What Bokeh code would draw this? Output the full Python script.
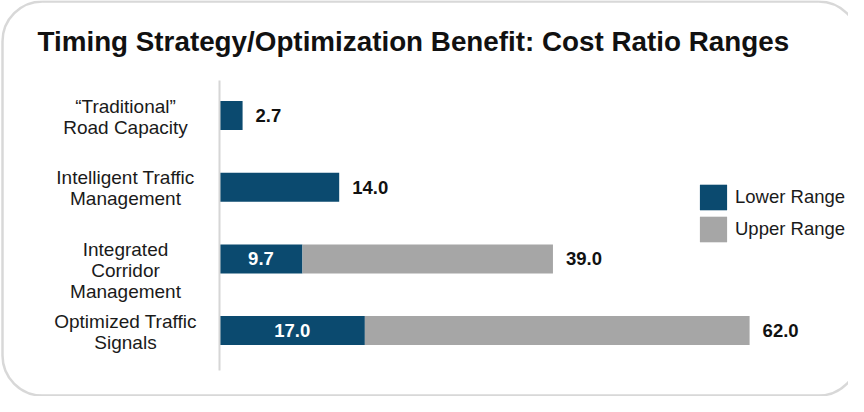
from bokeh.plotting import figure
from bokeh.models import Range1d, ColumnDataSource, Legend, LegendItem, BoxAnnotation
from bokeh.core.properties import value
from bokeh.embed import file_html
from bokeh.resources import INLINE

# ---- data ----
title_text = "Timing Strategy/Optimization Benefit: Cost Ratio Ranges"
categories = ["\u201cTraditional\u201d\nRoad Capacity",
              "Intelligent Traffic\nManagement",
              "Integrated\nCorridor\nManagement",
              "Optimized Traffic\nSignals"]
lower_range = [2.7, 14.0, 9.7, 17.0]
upper_range = [None, None, 39.0, 62.0]
series_names = ["Lower Range", "Upper Range"]

# ---- layout ----
W, H = 848, 396
PX_X = 8.55          # pixels per unit on x
AXIS_PX = 219        # x pixel of zero
ROW_PX = 71.7        # pixels per category
TOP_ROW_PX = 115     # pixel of first row centre

xmin = -AXIS_PX / PX_X
xmax = (W - AXIS_PX) / PX_X
ytop = -TOP_ROW_PX / ROW_PX
ybot = ytop + H / ROW_PX

def xd(px):
    return xmin + px / PX_X

def yd(py):
    return ytop + py / ROW_PX

FONT = value("Liberation Sans")
BLUE = "#0b4a6f"
GRAY = "#a6a6a6"

p = figure(width=W, height=H, output_backend="svg", toolbar_location=None,
           x_range=Range1d(xmin, xmax), y_range=Range1d(ybot, ytop),
           min_border=0, outline_line_color=None)
p.xaxis.visible = False
p.yaxis.visible = False
p.grid.visible = False
p.background_fill_color = "white"
p.border_fill_color = "white"

# rounded frame
frame = BoxAnnotation(left=xd(2), right=xd(858), top=yd(1), bottom=yd(395),
                      fill_alpha=0, line_color="#7d7d7d", line_width=2.5,
                      border_radius=40)
p.add_layout(frame)

idx = list(range(len(categories)))

# bars
low_src = ColumnDataSource(dict(y=idx, left=[0] * len(idx), right=lower_range))
up_i = [i for i in idx if upper_range[i] is not None]
up_src = ColumnDataSource(dict(y=up_i, left=[lower_range[i] for i in up_i],
                               right=[upper_range[i] for i in up_i]))
bh = 29 / ROW_PX
r_low = p.hbar(y="y", left="left", right="right", height=bh, source=low_src,
               fill_color=BLUE, line_color=None)
r_up = p.hbar(y="y", left="left", right="right", height=bh, source=up_src,
              fill_color=GRAY, line_color=None)

# vertical axis line
p.segment(x0=[0], x1=[0], y0=[yd(80)], y1=[yd(370)], line_color="#d6d6d6", line_width=2)

# category labels
p.text(x=[xd(125)] * len(idx), y=idx, text=categories, text_font=FONT,
       text_font_size="19px", text_color="#1a1a1a", text_align="center",
       text_baseline="top", text_line_height=1.0, y_offset=-20)

# value labels
out_x, out_t, out_y = [], [], []
in_x, in_t, in_y = [], [], []
for i in idx:
    if upper_range[i] is None:
        out_x.append(lower_range[i]); out_t.append(f"{lower_range[i]:.1f}"); out_y.append(i)
    else:
        in_x.append(lower_range[i] / 2); in_t.append(f"{lower_range[i]:.1f}"); in_y.append(i)
        out_x.append(upper_range[i]); out_t.append(f"{upper_range[i]:.1f}"); out_y.append(i)
p.text(x=out_x, y=out_y, text=out_t, text_font=FONT, text_font_size="18.5px",
       text_font_style="bold", text_color="#111111", text_align="left",
       text_baseline="middle", x_offset=13)
p.text(x=in_x, y=in_y, text=in_t, text_font=FONT, text_font_size="18.5px",
       text_font_style="bold", text_color="white", text_align="center",
       text_baseline="middle")

# title
p.text(x=[xd(37)], y=[yd(41)], text=[title_text], text_font=FONT,
       text_font_size="27.8px", text_font_style="bold", text_color="#111111",
       text_align="left", text_baseline="alphabetic")

# legend
legend = Legend(items=[LegendItem(label=series_names[0], renderers=[r_low]),
                       LegendItem(label=series_names[1], renderers=[r_up])],
                location=(696, 151), orientation="vertical",
                glyph_width=34, glyph_height=32, spacing=0, label_standoff=5,
                label_text_font="Liberation Sans", label_text_font_size="18.5px",
                label_text_color="#1a1a1a", label_height=32,
                padding=0, margin=0, border_line_color=None,
                background_fill_alpha=0)
p.add_layout(legend, "center")

open("out.html", "w").write(file_html(p, INLINE))
